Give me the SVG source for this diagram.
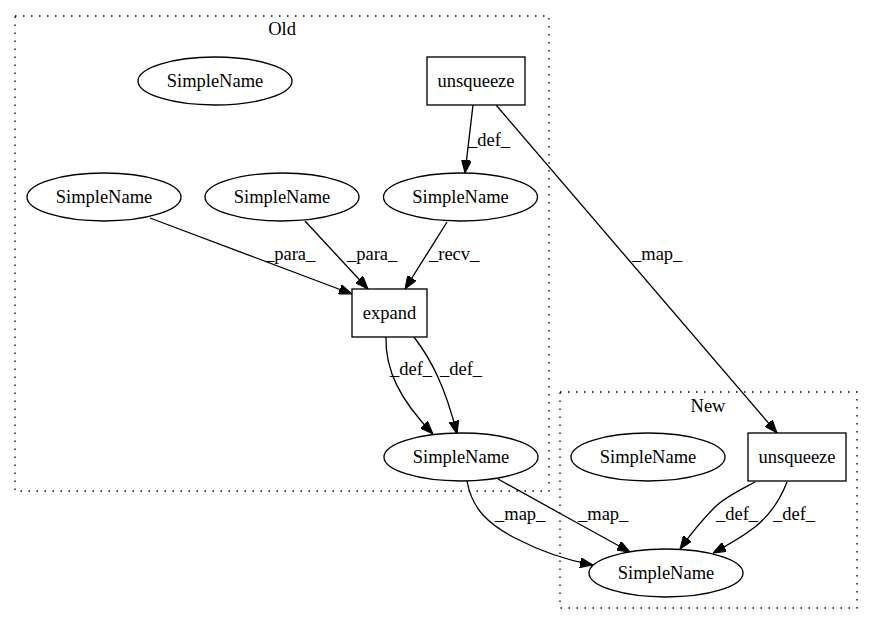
<svg xmlns="http://www.w3.org/2000/svg" width="873" height="624" viewBox="0 0 873 624">
<style>
text{font-family:"Liberation Serif","Times New Roman",serif;font-size:18.5px;fill:#000}
.n{fill:#fff;stroke:#000;stroke-width:1.33}
.c{fill:none;stroke:#000;stroke-width:1.33;stroke-dasharray:1.5,6.5}
.e{fill:none;stroke:#000;stroke-width:1.33;marker-end:url(#ah)}
.m{text-anchor:middle}
</style>
<defs>
<marker id="ah" viewBox="0 0 13 10" refX="13" refY="5" markerWidth="13" markerHeight="10" orient="auto" markerUnits="userSpaceOnUse">
<path d="M0,0 L13,5 L0,10 z" fill="#000" stroke="#000" stroke-width="1"/>
</marker>
</defs>
<rect width="873" height="624" fill="#fff"/>
<g id="cluster_old">
<rect class="c" x="15" y="16" width="534" height="475"/>
<text class="m" x="282" y="35">Old</text>
</g>
<g id="cluster_new">
<rect class="c" x="560" y="392" width="297" height="216"/>
<text class="m" x="708" y="412">New</text>
</g>
<g id="connectors">
<path class="e" d="M473,105 L465,173"/>
<text x="468" y="146">_def_</text>
<path class="e" d="M496,105 L777,433"/>
<text x="632" y="260">_map_</text>
<path class="e" d="M150,218 L352,294"/>
<text x="265" y="260">_para_</text>
<path class="e" d="M305,221 L368,289"/>
<text x="347" y="260">_para_</text>
<path class="e" d="M447,222 L405,289"/>
<text x="429" y="260">_recv_</text>
<path class="e" d="M386,337 C385,370 400,400 433,434"/>
<text x="390" y="375">_def_</text>
<path class="e" d="M414,337 C430,358 445,385 457,434"/>
<text x="440" y="375">_def_</text>
<path class="e" d="M467,481 C472,510 490,525 515,538 C540,551 565,560 593,565"/>
<text x="495" y="520">_map_</text>
<path class="e" d="M498,479 C530,497 590,530 630,552"/>
<text x="578" y="520">_map_</text>
<path class="e" d="M755,482 C740,490 725,497 715,507 C700,522 690,535 680,549"/>
<text x="716" y="520">_def_</text>
<path class="e" d="M787,482 C780,500 770,515 755,527 C742,537 728,545 713,553"/>
<text x="773" y="520">_def_</text>
</g>
<g id="old_simplename_top">
<ellipse class="n" cx="215" cy="81" rx="77" ry="24"/>
<text class="m" x="215" y="87">SimpleName</text>
</g>
<g id="old_unsqueeze">
<rect class="n" x="427" y="57" width="98" height="48"/>
<text class="m" x="476" y="87">unsqueeze</text>
</g>
<g id="old_simplename_left">
<ellipse class="n" cx="104" cy="197" rx="77" ry="24"/>
<text class="m" x="104" y="203">SimpleName</text>
</g>
<g id="old_simplename_mid">
<ellipse class="n" cx="282" cy="197" rx="77" ry="24"/>
<text class="m" x="282" y="203">SimpleName</text>
</g>
<g id="old_simplename_right">
<ellipse class="n" cx="460.5" cy="197" rx="77" ry="24"/>
<text class="m" x="460.5" y="203">SimpleName</text>
</g>
<g id="old_expand">
<rect class="n" x="352" y="289" width="75" height="48"/>
<text class="m" x="389.5" y="319">expand</text>
</g>
<g id="old_simplename_bottom">
<ellipse class="n" cx="461" cy="457" rx="77" ry="24"/>
<text class="m" x="461" y="463">SimpleName</text>
</g>
<g id="new_simplename_top">
<ellipse class="n" cx="648" cy="457" rx="77" ry="24"/>
<text class="m" x="648" y="463">SimpleName</text>
</g>
<g id="new_unsqueeze">
<rect class="n" x="748" y="433" width="98" height="48"/>
<text class="m" x="797" y="463">unsqueeze</text>
</g>
<g id="new_simplename_bottom">
<ellipse class="n" cx="666" cy="573" rx="77" ry="24"/>
<text class="m" x="666" y="579">SimpleName</text>
</g>
</svg>
